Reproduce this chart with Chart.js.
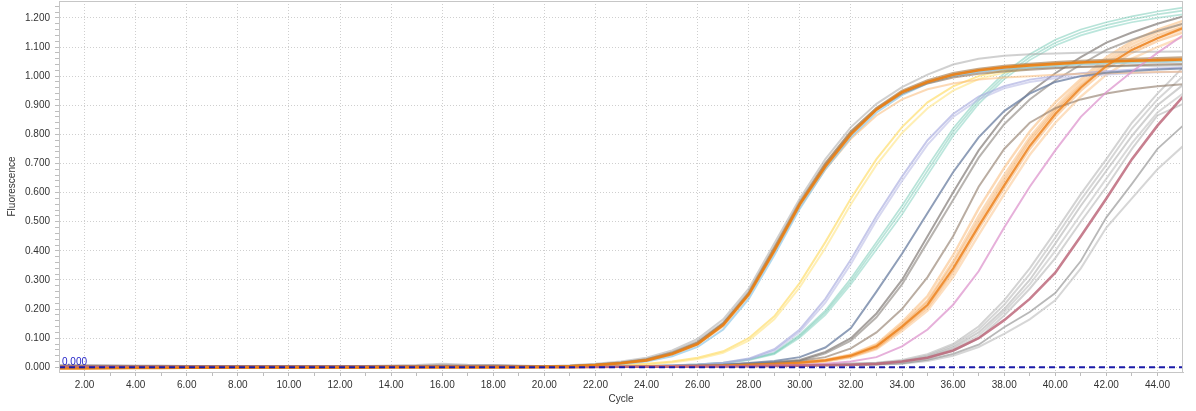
<!DOCTYPE html>
<html><head><meta charset="utf-8">
<script src="https://cdn.jsdelivr.net/npm/chart.js@4/dist/chart.umd.min.js"></script>
<style>html,body{margin:0;padding:0;background:#fff;overflow:hidden}</style>
</head><body>
<canvas id="c" width="1196" height="411"></canvas>
<script>
// ---- data (fluorescence per cycle, cycles 1..45) ----
const cycles = [1,2,3,4,5,6,7,8,9,10,11,12,13,14,15,16,17,18,19,20,21,22,23,24,25,26,27,28,29,30,31,32,33,34,35,36,37,38,39,40,41,42,43,44,45];
const xTicks = [2,3,4,5,6,7,8,9,10,11,12,13,14,15,16,17,18,19,20,21,22,23,24,25,26,27,28,29,30,31,32,33,34,35,36,37,38,39,40,41,42,43,44];
const yTicks = [0,0.02,0.04,0.06,0.08,0.1,0.12,0.14,0.16,0.18,0.2,0.22,0.24,0.26,0.28,0.3,0.32,0.34,0.36,0.38,0.4,0.42,0.44,0.46,0.48,0.5,0.52,0.54,0.56,0.58,0.6,0.62,0.64,0.66,0.68,0.7,0.72,0.74,0.76,0.78,0.8,0.82,0.84,0.86,0.88,0.9,0.92,0.94,0.96,0.98,1,1.02,1.04,1.06,1.08,1.1,1.12,1.14,1.16,1.18,1.2,1.22,1.24];
const threshold = 0.000;

// early group (Ct ~28)
const mainOrange = [-.004,-.004,-.003,-.002,-.002,-.001,-.001,0,0,0,0,0,0,.001,.001,.001,.001,.001,.001,.002,.004,.008,.014,.024,.046,.08,.145,.25,.40,.56,.69,.80,.885,.945,.98,1.005,1.02,1.03,1.037,1.042,1.047,1.05,1.053,1.055,1.057];
const mainTan = [.004,.004,.003,.003,.003,.003,.003,.003,.003,.003,.003,.003,.003,.003,.003,.004,.003,.003,.003,.003,.005,.009,.016,.027,.05,.085,.15,.255,.41,.565,.70,.81,.89,.95,.985,1.01,1.025,1.035,1.042,1.048,1.052,1.056,1.059,1.062,1.064];
const mainBlue = [.002,.002,.002,.002,.001,.001,.001,.001,.001,.001,.001,.001,.001,.001,.001,.002,.001,.001,.001,.002,.003,.006,.011,.02,.038,.07,.13,.235,.385,.545,.68,.79,.875,.935,.975,1.0,1.015,1.025,1.03,1.035,1.04,1.043,1.046,1.048,1.05];
const mainGrayHigh = [.008,.008,.007,.006,.006,.005,.005,.005,.005,.005,.005,.005,.005,.006,.008,.012,.009,.008,.006,.004,.007,.012,.02,.033,.058,.098,.165,.27,.425,.58,.715,.825,.905,.962,1.005,1.04,1.06,1.07,1.075,1.078,1.08,1.082,1.083,1.084,1.085];
const mainGray = [.006,.006,.005,.005,.004,.004,.004,.004,.004,.004,.004,.004,.004,.004,.005,.007,.006,.008,.005,.003,.005,.01,.017,.028,.052,.09,.155,.26,.41,.57,.70,.81,.89,.945,.98,1.0,1.015,1.022,1.027,1.03,1.032,1.034,1.035,1.036,1.037];
const mainLightOrange = [-.002,-.002,-.001,-.001,0,0,0,0,0,0,0,.001,.001,.001,.001,.001,.001,.001,.001,.002,.004,.008,.014,.023,.044,.078,.14,.245,.395,.55,.68,.785,.865,.92,.955,.975,.988,.995,1.0,1.005,1.008,1.01,1.012,1.014,1.015];
const mainBrown = [.003,.003,.003,.003,.003,.003,.003,.003,.003,.003,.003,.003,.003,.003,.003,.003,.003,.003,.003,.003,.005,.009,.015,.026,.048,.084,.15,.252,.405,.56,.695,.805,.885,.94,.975,.995,1.008,1.016,1.022,1.027,1.031,1.034,1.037,1.04,1.042];
// yellow (Ct ~30)
const yellow1 = [.001,.001,.001,.001,.001,.001,.001,.001,.001,.001,.001,.001,.001,.001,.001,.001,.001,.001,.001,.001,.002,.004,.007,.012,.02,.033,.055,.1,.175,.29,.43,.58,.715,.825,.91,.965,1.0,1.02,1.032,1.04,1.045,1.048,1.05,1.052,1.053];
const yellow2 = [.002,.002,.002,.002,.002,.002,.002,.002,.002,.002,.002,.002,.002,.002,.002,.002,.002,.002,.002,.001,.002,.003,.006,.01,.017,.029,.05,.092,.165,.275,.41,.56,.695,.805,.89,.95,.99,1.012,1.026,1.035,1.041,1.045,1.048,1.05,1.052];
// lavender (Ct ~31.5)
const lavender1 = [.001,.001,.001,.001,.001,.001,.001,.001,.001,.001,.001,.001,.001,.001,.001,.001,.001,.001,.001,.001,.001,.002,.003,.005,.007,.01,.016,.03,.062,.13,.235,.37,.52,.655,.78,.87,.93,.965,.988,1.0,1.01,1.017,1.022,1.026,1.03];
const lavender2 = [.002,.002,.002,.002,.002,.002,.002,.002,.002,.002,.002,.002,.002,.002,.002,.002,.002,.002,.002,.001,.001,.002,.003,.004,.006,.009,.014,.027,.057,.122,.222,.355,.505,.64,.765,.86,.92,.958,.98,.993,1.0,1.006,1.01,1.013,1.015];
// teal (Ct ~32, high plateau)
const teal1 = [.001,.001,.001,.001,.001,.001,.001,.001,.001,.001,.001,.001,.001,.001,.001,.001,.001,.001,.001,.001,.001,.002,.003,.005,.007,.01,.016,.028,.05,.112,.195,.305,.43,.555,.69,.82,.925,1.01,1.075,1.125,1.16,1.185,1.205,1.222,1.235];
const teal2 = [.002,.002,.002,.002,.002,.002,.002,.002,.002,.002,.002,.002,.002,.002,.002,.002,.002,.002,.002,.001,.001,.002,.003,.004,.006,.009,.014,.025,.045,.102,.18,.285,.405,.525,.66,.795,.905,.99,1.055,1.105,1.14,1.165,1.185,1.2,1.212];
const teal3 = [.001,.001,.001,.001,.001,.001,.001,.001,.001,.001,.001,.001,.001,.001,.001,.001,.001,.001,.001,.001,.001,.002,.003,.005,.007,.01,.015,.026,.048,.107,.188,.295,.418,.54,.675,.808,.915,1.0,1.065,1.115,1.15,1.175,1.195,1.212,1.225];
// slate (Ct ~33)
const slate1 = [.002,.002,.002,.002,.002,.002,.002,.002,.002,.002,.002,.002,.002,.002,.002,.002,.002,.002,.002,.001,.001,.002,.002,.003,.005,.007,.01,.015,.022,.035,.068,.135,.26,.39,.53,.67,.79,.88,.94,.98,1.0,1.012,1.018,1.023,1.026];
// dark gray / brown (Ct ~34)
const darkGray1 = [.003,.003,.003,.003,.003,.003,.003,.003,.003,.003,.003,.003,.003,.003,.003,.004,.003,.003,.003,.002,.002,.003,.003,.004,.005,.007,.009,.013,.018,.025,.053,.1,.185,.30,.45,.60,.745,.86,.945,1.01,1.065,1.115,1.15,1.18,1.205];
const darkGray2 = [.003,.003,.003,.003,.003,.003,.003,.003,.003,.003,.003,.003,.003,.003,.003,.003,.003,.003,.003,.002,.002,.003,.003,.004,.005,.006,.008,.012,.016,.022,.048,.092,.172,.285,.43,.575,.72,.835,.92,.985,1.04,1.09,1.125,1.155,1.18];
const brownFlat = [.002,.002,.002,.002,.002,.002,.002,.002,.002,.002,.002,.002,.002,.002,.002,.002,.002,.002,.002,.001,.002,.002,.003,.003,.004,.005,.007,.01,.015,.022,.035,.065,.12,.2,.31,.45,.62,.75,.84,.89,.92,.94,.955,.965,.972];
// orange cluster (Ct ~35.5)
const orangeDark = [0,0,0,0,0,0,0,0,0,0,0,0,0,0,0,0,0,0,0,.001,.001,.002,.002,.003,.004,.005,.007,.009,.012,.016,.024,.04,.072,.14,.215,.34,.485,.625,.76,.87,.96,1.035,1.09,1.13,1.165];
const orange1 = [.001,.001,.001,.001,.001,.001,.001,.001,.001,.001,.001,.001,.001,.001,.001,.001,.001,.001,.001,.001,.001,.002,.002,.003,.004,.005,.007,.009,.012,.017,.026,.044,.08,.155,.245,.385,.545,.685,.81,.91,.99,1.065,1.12,1.16,1.19];
const orange2 = [.001,.001,.001,.001,.001,.001,.001,.001,.001,.001,.001,.001,.001,.001,.001,.001,.001,.001,.001,.001,.001,.002,.002,.003,.004,.005,.006,.008,.011,.016,.025,.042,.076,.148,.23,.365,.52,.66,.79,.895,.98,1.055,1.11,1.15,1.18];
const orange3 = [0,0,0,0,0,0,0,0,0,0,0,0,0,0,0,0,0,0,0,.001,.001,.002,.002,.003,.003,.004,.006,.008,.011,.015,.022,.037,.066,.132,.205,.325,.475,.615,.75,.86,.95,1.025,1.08,1.12,1.15];
const orange4 = [0,0,0,0,0,0,0,0,0,0,0,0,0,0,0,0,0,0,0,.001,.001,.001,.002,.002,.003,.004,.005,.007,.01,.014,.02,.034,.062,.125,.195,.31,.455,.595,.73,.84,.93,1.005,1.06,1.1,1.135];
const orange5 = [.001,.001,.001,.001,.001,.001,.001,.001,.001,.001,.001,.001,.001,.001,.001,.001,.001,.001,.001,.001,.001,.002,.002,.003,.004,.005,.006,.008,.011,.016,.024,.04,.072,.142,.225,.355,.505,.645,.78,.885,.97,1.045,1.10,1.14,1.17];
const orange6 = [0,0,0,0,0,0,0,0,0,0,0,0,0,0,0,0,0,0,0,.001,.001,.002,.002,.003,.004,.005,.006,.008,.011,.015,.023,.038,.068,.136,.212,.335,.49,.632,.768,.878,.965,1.035,1.09,1.13,1.16];
// pink (Ct ~38)
const pink1 = [.001,.001,.001,.001,.001,.001,.001,.001,.001,.001,.001,.001,.001,.001,.001,.001,.001,.001,.001,.001,.001,.001,.002,.002,.003,.003,.004,.005,.006,.008,.012,.02,.035,.072,.13,.215,.33,.48,.62,.745,.86,.945,1.015,1.08,1.14];
// rose (Ct ~41)
const rose1 = [.002,.002,.002,.002,.002,.002,.002,.002,.002,.002,.002,.002,.002,.002,.002,.002,.002,.002,.002,.001,.001,.001,.002,.002,.002,.003,.003,.004,.005,.006,.007,.009,.012,.02,.033,.058,.1,.162,.235,.325,.45,.58,.715,.83,.93];
// light gray late group (Ct ~40-42)
const gray1 = [.006,.006,.006,.005,.005,.005,.005,.005,.005,.005,.005,.005,.005,.005,.006,.009,.007,.006,.005,.002,.002,.003,.003,.004,.004,.005,.006,.007,.008,.009,.011,.013,.016,.025,.045,.08,.14,.23,.34,.465,.595,.715,.84,.94,1.03];
const gray2 = [.004,.004,.004,.004,.004,.004,.004,.004,.004,.004,.004,.004,.004,.004,.004,.006,.005,.006,.004,.002,.002,.002,.003,.003,.004,.005,.005,.006,.007,.008,.01,.012,.015,.022,.04,.074,.13,.215,.32,.445,.575,.695,.82,.92,1.0];
const gray3 = [.003,.003,.003,.003,.003,.003,.003,.003,.003,.003,.003,.003,.003,.003,.003,.003,.003,.003,.003,.001,.002,.002,.002,.003,.003,.004,.005,.006,.007,.008,.009,.011,.014,.02,.037,.068,.12,.2,.3,.425,.555,.675,.795,.9,.97];
const gray4 = [.002,.002,.002,.002,.002,.002,.002,.002,.002,.002,.002,.002,.002,.002,.002,.002,.002,.002,.002,.001,.001,.002,.002,.003,.003,.004,.004,.005,.006,.007,.008,.01,.013,.018,.034,.062,.11,.19,.285,.4,.525,.648,.77,.875,.94];
const gray5 = [.003,.003,.003,.003,.003,.003,.003,.003,.003,.003,.003,.003,.003,.003,.003,.004,.003,.003,.003,.001,.001,.002,.002,.002,.003,.003,.004,.005,.006,.007,.008,.009,.011,.016,.03,.056,.1,.178,.27,.375,.5,.62,.75,.865,.905];
const gray6 = [.002,.002,.002,.002,.002,.002,.002,.002,.002,.002,.002,.002,.002,.002,.002,.002,.002,.002,.002,.001,.001,.001,.002,.002,.002,.003,.003,.004,.005,.006,.007,.008,.01,.014,.026,.046,.078,.138,.19,.255,.365,.515,.63,.75,.83];
const gray7 = [.002,.002,.002,.002,.002,.002,.002,.002,.002,.002,.002,.002,.002,.002,.002,.002,.002,.002,.002,.001,.001,.001,.001,.002,.002,.002,.003,.003,.004,.005,.006,.007,.009,.012,.022,.04,.07,.115,.165,.23,.34,.48,.58,.68,.76];

// ---- styles (drawn top first) ----
const curves = [
  [mainOrange, 'rgba(232,128,22,0.95)', 2.6],
  [rose1, 'rgba(185,95,115,0.8)', 2.6],
  [pink1, 'rgba(222,150,205,0.75)', 2],
  [orangeDark, 'rgba(236,130,30,0.85)', 2.2],
  [slate1, 'rgba(105,125,160,0.75)', 2],
  [mainTan, 'rgba(172,132,88,0.7)', 2.4],
  [mainBrown, 'rgba(140,112,85,0.6)', 2],
  [mainBlue, 'rgba(135,195,228,0.65)', 2],
  [mainGrayHigh, 'rgba(170,170,170,0.55)', 2],
  [mainGray, 'rgba(150,150,150,0.5)', 2],
  [mainLightOrange, 'rgba(250,185,120,0.55)', 2],
  [yellow1, 'rgba(255,222,110,0.7)', 2],
  [yellow2, 'rgba(255,228,130,0.6)', 2],
  [lavender1, 'rgba(168,170,222,0.65)', 2],
  [lavender2, 'rgba(180,182,228,0.55)', 2],
  [teal1, 'rgba(110,200,178,0.5)', 1.7],
  [teal2, 'rgba(120,205,185,0.5)', 1.7],
  [teal3, 'rgba(100,195,170,0.45)', 1.7],
  [darkGray1, 'rgba(120,112,108,0.65)', 2],
  [darkGray2, 'rgba(135,128,122,0.6)', 2],
  [brownFlat, 'rgba(140,118,100,0.6)', 2],
  [orange1, 'rgba(248,170,90,0.45)', 2.4],
  [orange2, 'rgba(248,175,100,0.45)', 2.4],
  [orange3, 'rgba(246,165,85,0.45)', 2.4],
  [orange4, 'rgba(250,185,115,0.45)', 2.4],
  [orange5, 'rgba(244,160,75,0.45)', 2.4],
  [orange6, 'rgba(250,178,105,0.45)', 2.4],
  [gray1, 'rgba(175,175,175,0.55)', 2],
  [gray2, 'rgba(180,180,180,0.55)', 2],
  [gray3, 'rgba(170,170,170,0.55)', 2],
  [gray4, 'rgba(185,185,185,0.55)', 2],
  [gray5, 'rgba(175,175,175,0.55)', 2],
  [gray6, 'rgba(125,125,125,0.55)', 1.8],
  [gray7, 'rgba(180,180,180,0.55)', 2]
];

const datasets = [{
  data: [{x: cycles[0], y: threshold}, {x: cycles[cycles.length - 1], y: threshold}],
  borderColor: '#1a1aa8', borderWidth: 2, borderDash: [6, 4], pointRadius: 0, fill: false
}];
curves.forEach(([vals, col, w]) => datasets.push({
  data: cycles.map((c, i) => ({x: c, y: vals[i]})),
  borderColor: col, borderWidth: w, pointRadius: 0, tension: 0, fill: false
}));

const FONT = 'Liberation Sans, Arial, sans-serif';
const isMajorX = v => Math.round(v) % 2 === 0;
const isMajorY = v => Math.abs(v * 10 - Math.round(v * 10)) < 1e-6;

const frame = {
  id: 'frame',
  beforeDraw(chart) {
    const c = chart.ctx;
    c.save(); c.fillStyle = '#fff'; c.fillRect(0, 0, chart.width, chart.height); c.restore();
  },
  afterDraw(chart) {
    const {ctx, chartArea: a, scales} = chart;
    ctx.save();
    ctx.strokeStyle = '#c6c6c6'; ctx.lineWidth = 1;
    ctx.strokeRect(Math.round(a.left) + 0.5, Math.round(a.top) + 0.5, Math.round(a.right - a.left) - 1, Math.round(a.bottom - a.top));
    ctx.fillStyle = '#2424c8';
    ctx.font = '10px ' + FONT;
    ctx.textBaseline = 'bottom';
    ctx.fillText(threshold.toFixed(3), scales.x.getPixelForValue(cycles[0]) + 3, scales.y.getPixelForValue(threshold) - 0.5);
    ctx.restore();
  }
};

new Chart(document.getElementById('c'), {
  type: 'line',
  data: {datasets},
  plugins: [frame],
  options: {
    responsive: false, animation: false, devicePixelRatio: 1,
    layout: {padding: {top: 1, right: 13, left: 0, bottom: 0}},
    plugins: {legend: {display: false}, tooltip: {enabled: false}},
    scales: {
      x: {
        type: 'linear', min: 1, max: 45,
        afterBuildTicks: s => { s.ticks = xTicks.map(v => ({value: v})); },
        afterFit: s => { s.height = 39; s.paddingLeft = 0; s.paddingRight = 0; },
        ticks: {autoSkip: false, maxRotation: 0, padding: 3, color: '#333', font: {family: FONT, size: 10},
          callback: v => isMajorX(v) ? Number(v).toFixed(2) : ''},
        grid: {color: c => (c.tick && isMajorX(c.tick.value)) ? '#cfcfcf' : 'rgba(0,0,0,0)', tickColor: '#bdbdbd', tickLength: 4, lineWidth: 1},
        border: {display: true, color: '#c6c6c6', dash: [1, 2]},
        title: {display: true, text: 'Cycle', color: '#333', font: {family: FONT, size: 10}, padding: {top: 0, bottom: 6}}
      },
      y: {
        type: 'linear', min: -0.016, max: 1.258,
        afterBuildTicks: s => { s.ticks = yTicks.map(v => ({value: v})); },
        afterFit: s => { s.width = 59; s.paddingTop = 0; s.paddingBottom = 0; },
        ticks: {autoSkip: false, padding: 5, color: '#333', font: {family: FONT, size: 10},
          callback: v => isMajorY(v) ? Number(v).toFixed(3) : ''},
        grid: {color: c => (c.tick && isMajorY(c.tick.value)) ? '#cfcfcf' : 'rgba(0,0,0,0)', tickColor: '#bdbdbd', tickLength: 4, lineWidth: 1},
        border: {display: true, color: '#c6c6c6', dash: [1, 2]},
        title: {display: true, text: 'Fluorescence', color: '#333', font: {family: FONT, size: 10}, padding: {top: 6, bottom: 0}}
      }
    }
  }
});
</script>
</body></html>
